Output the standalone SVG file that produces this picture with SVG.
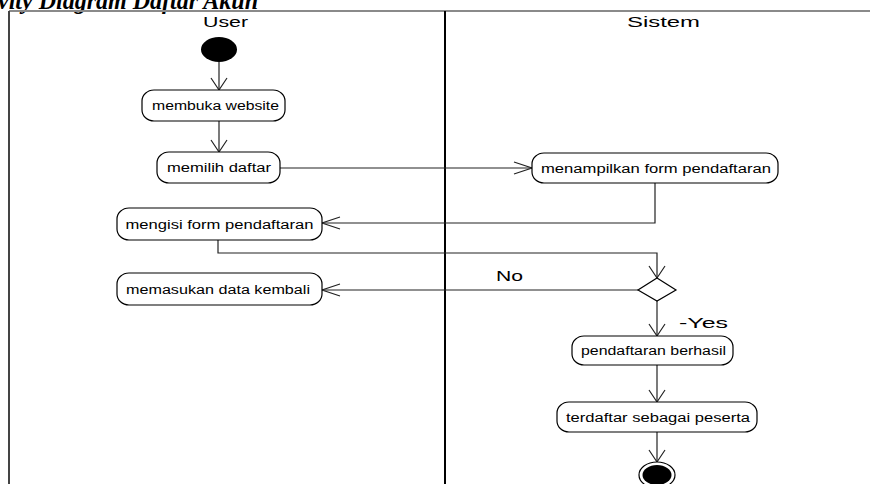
<svg xmlns="http://www.w3.org/2000/svg" width="870" height="484" viewBox="0 0 870 484">
  <style>
    .title { font-family: "Liberation Serif", "Times New Roman", serif; font-size: 25px; font-weight: bold; font-style: italic; fill: #000; }
    .lane { font-family: "Liberation Sans", Arial, sans-serif; font-size: 15px; fill: #000; }
    .label { font-family: "Liberation Sans", Arial, sans-serif; font-size: 15px; fill: #000; }
    .act rect { fill: #fff; stroke: #000; stroke-width: 1.2; }
    .act text { font-family: "Liberation Sans", Arial, sans-serif; font-size: 12.5px; fill: #000; text-anchor: middle; }
    .edge { fill: none; stroke: #222; stroke-width: 1.2; }
    .edge.v { marker-end: url(#arrowV); }
    .edge.h { marker-end: url(#arrowH); }
    .head { fill: none; stroke: #222; stroke-width: 1.2; }
  </style>
  <defs>
    <!-- open arrowhead for vertical flows -->
    <marker id="arrowV" markerUnits="userSpaceOnUse" viewBox="-1 -1 14 18" refX="12" refY="8" markerWidth="14" markerHeight="18" orient="auto" overflow="visible">
      <path class="head" d="M0,0 L12,8 L0,16"/>
    </marker>
    <!-- open arrowhead for horizontal flows -->
    <marker id="arrowH" markerUnits="userSpaceOnUse" viewBox="-1 -1 20 14" refX="18" refY="6" markerWidth="20" markerHeight="14" orient="auto" overflow="visible">
      <path class="head" d="M0,0 L18,6 L0,12"/>
    </marker>
  </defs>

  <rect x="0" y="0" width="870" height="484" fill="#fff"/>

  <!-- heading, running off the top edge -->
  <text class="title" x="-2" y="9" textLength="260" lengthAdjust="spacingAndGlyphs">vity Diagram Daftar Akun</text>

  <!-- swimlane frame -->
  <g id="lanes">
    <line x1="9" y1="11" x2="870" y2="11" stroke="#8a8a8a" stroke-width="2"/>
    <line x1="9" y1="11" x2="9" y2="484" stroke="#444" stroke-width="2"/>
    <line x1="445" y1="11" x2="445" y2="484" stroke="#000" stroke-width="2"/>
    <text class="lane" x="203" y="27" textLength="45" lengthAdjust="spacingAndGlyphs">User</text>
    <text class="lane" x="627" y="27" textLength="73" lengthAdjust="spacingAndGlyphs">Sistem</text>
  </g>

  <!-- connectors -->
  <g id="connectors">
    <path class="edge v" d="M219 62 V90"/>
    <path class="edge v" d="M219 121 V152"/>
    <path class="edge h" d="M280 168 H532"/>
    <path class="edge h" d="M655 183 V223 H322"/>
    <path class="edge v" d="M218 240 V253 H657 V278"/>
    <path class="edge h" d="M638 290 H322"/>
    <path class="edge v" d="M657 301 V336"/>
    <path class="edge v" d="M657 365 V402"/>
    <path class="edge v" d="M657 432 V462"/>
    <text class="label" x="496" y="281" textLength="27" lengthAdjust="spacingAndGlyphs">No</text>
    <text class="label" x="679" y="328" textLength="49" lengthAdjust="spacingAndGlyphs">-Yes</text>
  </g>

  <!-- nodes -->
  <g id="start">
    <ellipse cx="219" cy="49.5" rx="18" ry="12.5" fill="#000"/>
  </g>

  <g id="membuka-website" class="act">
    <rect x="142" y="90" width="143" height="31" rx="12" ry="11"/>
    <text x="215.5" y="110" textLength="127" lengthAdjust="spacingAndGlyphs">membuka website</text>
  </g>

  <g id="memilih-daftar" class="act">
    <rect x="157" y="152" width="123" height="31" rx="12" ry="11"/>
    <text x="219" y="172" textLength="104" lengthAdjust="spacingAndGlyphs">memilih daftar</text>
  </g>

  <g id="menampilkan-form" class="act">
    <rect x="532" y="153" width="246" height="30" rx="12" ry="11"/>
    <text x="656" y="172.5" textLength="230" lengthAdjust="spacingAndGlyphs">menampilkan form pendaftaran</text>
  </g>

  <g id="mengisi-form" class="act">
    <rect x="117" y="208" width="205" height="32" rx="12" ry="11"/>
    <text x="219.5" y="228.5" textLength="188" lengthAdjust="spacingAndGlyphs">mengisi form pendaftaran</text>
  </g>

  <g id="memasukan-data" class="act">
    <rect x="117" y="273" width="205" height="32" rx="12" ry="11"/>
    <text x="218" y="293.5" textLength="184" lengthAdjust="spacingAndGlyphs">memasukan data kembali</text>
  </g>

  <g id="decision">
    <path d="M657 278 L676 290 L657 301 L638 290 Z" fill="#fff" stroke="#000" stroke-width="1.2"/>
  </g>

  <g id="pendaftaran-berhasil" class="act">
    <rect x="572" y="336" width="161" height="29" rx="12" ry="11"/>
    <text x="653.5" y="355" textLength="145" lengthAdjust="spacingAndGlyphs">pendaftaran berhasil</text>
  </g>

  <g id="terdaftar-peserta" class="act">
    <rect x="557" y="402" width="200" height="30" rx="12" ry="11"/>
    <text x="658" y="421.5" textLength="184" lengthAdjust="spacingAndGlyphs">terdaftar sebagai peserta</text>
  </g>

  <g id="end">
    <ellipse cx="657" cy="475" rx="18" ry="13" fill="#fff" stroke="#000" stroke-width="1.2"/>
    <ellipse cx="657" cy="475" rx="14.5" ry="10" fill="#000"/>
  </g>
</svg>
